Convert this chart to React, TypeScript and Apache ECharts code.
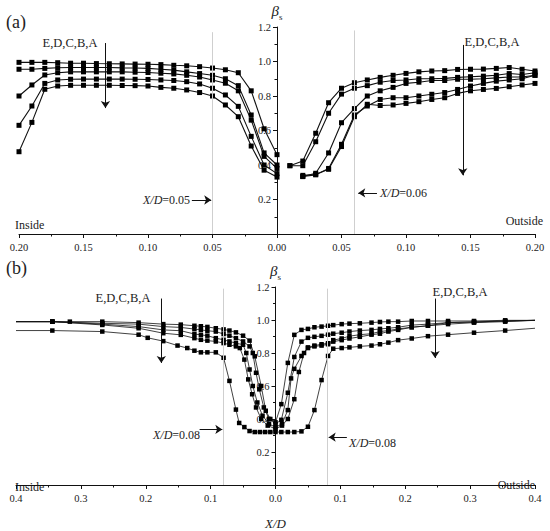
import React, { useEffect, useRef } from "react";
import * as echarts from "echarts";

const FONT = "Liberation Serif";

// ---------- Panel (a) data ----------
const aInX = [-0.2, -0.19, -0.18, -0.17, -0.16, -0.15, -0.14, -0.13, -0.12, -0.11, -0.1, -0.09, -0.08, -0.07, -0.06, -0.05, -0.04, -0.03, -0.02, -0.01, 0];
const aInE = [0.995, 0.995, 0.995, 0.993, 0.99, 0.99, 0.988, 0.987, 0.986, 0.985, 0.984, 0.982, 0.978, 0.975, 0.97, 0.962, 0.952, 0.935, 0.83, 0.61, 0.46];
const aInD = [0.955, 0.955, 0.96, 0.964, 0.965, 0.965, 0.965, 0.965, 0.963, 0.962, 0.96, 0.955, 0.95, 0.94, 0.93, 0.92, 0.9, 0.86, 0.69, 0.47, 0.4];
const aInC = [0.8, 0.864, 0.922, 0.935, 0.94, 0.94, 0.94, 0.94, 0.94, 0.938, 0.936, 0.932, 0.928, 0.92, 0.91, 0.893, 0.874, 0.83, 0.66, 0.45, 0.38];
const aInB = [0.63, 0.742, 0.873, 0.893, 0.897, 0.898, 0.898, 0.898, 0.898, 0.897, 0.896, 0.893, 0.89, 0.883, 0.87, 0.845, 0.806, 0.74, 0.566, 0.4, 0.35];
const aInA = [0.477, 0.647, 0.839, 0.858, 0.862, 0.862, 0.862, 0.862, 0.861, 0.86, 0.858, 0.85, 0.845, 0.835, 0.82, 0.8, 0.748, 0.68, 0.51, 0.37, 0.33];

const aOutX1 = [0.01, 0.02, 0.03, 0.04, 0.05, 0.06, 0.07, 0.08, 0.09, 0.1, 0.11, 0.12, 0.13, 0.14, 0.15, 0.16, 0.17, 0.18, 0.19, 0.2];
const aOutX2 = [0.02, 0.03, 0.04, 0.05, 0.06, 0.07, 0.08, 0.09, 0.1, 0.11, 0.12, 0.13, 0.14, 0.15, 0.16, 0.17, 0.18, 0.19, 0.2];
const aOutE = [0.396, 0.423, 0.584, 0.761, 0.845, 0.877, 0.893, 0.908, 0.92, 0.931, 0.94, 0.945, 0.947, 0.954, 0.955, 0.956, 0.96, 0.965, 0.955, 0.945];
const aOutD = [0.396, 0.396, 0.535, 0.7, 0.811, 0.845, 0.86, 0.88, 0.89, 0.893, 0.9, 0.9, 0.902, 0.908, 0.912, 0.915, 0.92, 0.93, 0.925, 0.935];
const aOutC = [0.333, 0.352, 0.47, 0.645, 0.727, 0.8, 0.83, 0.85, 0.873, 0.88, 0.89, 0.89, 0.897, 0.897, 0.9, 0.905, 0.91, 0.91, 0.92];
const aOutB = [0.333, 0.343, 0.38, 0.52, 0.69, 0.742, 0.78, 0.79, 0.79, 0.8, 0.81, 0.82, 0.838, 0.858, 0.873, 0.886, 0.893, 0.9, 0.92];
const aOutA = [0.34, 0.345, 0.375, 0.507, 0.68, 0.752, 0.745, 0.748, 0.757, 0.767, 0.78, 0.79, 0.815, 0.83, 0.838, 0.844, 0.854, 0.864, 0.873];

// ---------- Panel (b) data ----------
const bAX = [-0.4, -0.344, -0.267, -0.211, -0.197, -0.173, -0.151, -0.136, -0.125, -0.115, -0.105, -0.092, -0.08, -0.071, -0.061, -0.056, -0.048, -0.04, -0.032, -0.024, -0.016, -0.008, 0, 0.009, 0.019, 0.029, 0.04, 0.05, 0.06, 0.071, 0.081, 0.089, 0.102, 0.114, 0.13, 0.148, 0.161, 0.174, 0.189, 0.21, 0.235, 0.266, 0.306, 0.354, 0.4];
const bAY = [0.936, 0.936, 0.93, 0.911, 0.892, 0.872, 0.845, 0.83, 0.814, 0.804, 0.804, 0.804, 0.771, 0.631, 0.457, 0.376, 0.351, 0.327, 0.321, 0.321, 0.321, 0.321, 0.321, 0.321, 0.321, 0.321, 0.325, 0.353, 0.454, 0.636, 0.782, 0.826, 0.83, 0.834, 0.84, 0.845, 0.853, 0.863, 0.878, 0.888, 0.902, 0.911, 0.923, 0.936, 0.95];

const bEX = [-0.4, -0.344, -0.317, -0.267, -0.211, -0.173, -0.146, -0.125, -0.115, -0.105, -0.092, -0.08, -0.071, -0.061, -0.05, -0.04, -0.032, -0.022, -0.015, -0.008, 0, 0.009, 0.019, 0.029, 0.04, 0.05, 0.06, 0.071, 0.081, 0.089, 0.102, 0.114, 0.13, 0.148, 0.161, 0.174, 0.189, 0.21, 0.235, 0.266, 0.306, 0.354, 0.4];
const bEY = [0.99, 0.99, 0.99, 0.99, 0.984, 0.975, 0.972, 0.965, 0.962, 0.958, 0.95, 0.943, 0.936, 0.925, 0.905, 0.875, 0.78, 0.6, 0.45, 0.4, 0.38, 0.49, 0.74, 0.91, 0.94, 0.946, 0.956, 0.96, 0.965, 0.969, 0.975, 0.978, 0.98, 0.984, 0.988, 0.99, 0.99, 0.994, 0.994, 0.994, 0.994, 0.998, 0.998];

const bDX = [-0.4, -0.344, -0.267, -0.211, -0.173, -0.146, -0.125, -0.115, -0.105, -0.092, -0.08, -0.071, -0.061, -0.05, -0.04, -0.035, -0.03, -0.025, -0.018, -0.01, 0, 0.009, 0.019, 0.029, 0.04, 0.05, 0.06, 0.071, 0.081, 0.089, 0.102, 0.114, 0.13, 0.148, 0.161, 0.174, 0.189, 0.21, 0.235, 0.266, 0.306, 0.354, 0.4];
const bDY = [0.99, 0.99, 0.98, 0.975, 0.96, 0.955, 0.945, 0.94, 0.935, 0.93, 0.915, 0.905, 0.89, 0.87, 0.84, 0.8, 0.68, 0.58, 0.47, 0.4, 0.37, 0.395, 0.559, 0.776, 0.869, 0.892, 0.898, 0.904, 0.911, 0.917, 0.923, 0.93, 0.936, 0.94, 0.946, 0.95, 0.956, 0.969, 0.975, 0.984, 0.988, 0.994, 0.998];

const bCX = [-0.4, -0.344, -0.267, -0.211, -0.173, -0.146, -0.125, -0.115, -0.105, -0.092, -0.08, -0.071, -0.061, -0.05, -0.045, -0.04, -0.035, -0.028, -0.02, -0.01, 0, 0.01, 0.019, 0.024, 0.029, 0.04, 0.05, 0.06, 0.071, 0.081, 0.089, 0.102, 0.114, 0.13, 0.148, 0.161, 0.174, 0.189, 0.21, 0.235, 0.266, 0.306, 0.354, 0.4];
const bCY = [0.99, 0.99, 0.975, 0.96, 0.94, 0.935, 0.915, 0.91, 0.905, 0.89, 0.88, 0.87, 0.86, 0.85, 0.8, 0.7, 0.6, 0.5, 0.42, 0.37, 0.35, 0.37, 0.454, 0.646, 0.704, 0.782, 0.834, 0.845, 0.853, 0.859, 0.878, 0.888, 0.902, 0.911, 0.917, 0.93, 0.936, 0.946, 0.956, 0.965, 0.984, 0.988, 0.994, 0.998];

const bBX = [-0.4, -0.344, -0.267, -0.211, -0.173, -0.146, -0.125, -0.115, -0.105, -0.092, -0.08, -0.071, -0.061, -0.055, -0.048, -0.042, -0.036, -0.03, -0.022, -0.012, 0, 0.01, 0.019, 0.029, 0.036, 0.044, 0.05, 0.06, 0.071, 0.081, 0.089, 0.102, 0.114, 0.13, 0.148, 0.161, 0.174, 0.189, 0.21, 0.235, 0.266, 0.306, 0.354, 0.4];
const bBY = [0.99, 0.99, 0.97, 0.95, 0.92, 0.91, 0.89, 0.88, 0.875, 0.87, 0.86, 0.85, 0.84, 0.83, 0.76, 0.64, 0.55, 0.47, 0.4, 0.36, 0.34, 0.36, 0.4, 0.52, 0.685, 0.8, 0.83, 0.84, 0.845, 0.853, 0.869, 0.878, 0.888, 0.898, 0.911, 0.917, 0.93, 0.94, 0.956, 0.965, 0.975, 0.984, 0.99, 0.998];

// reference lines / annotations (data coords)
const aRefLines = [-0.05, 0.06];
const bRefLines = [-0.08, 0.08];
const caseLabel = "E,D,C,B,A";

function makeSeries(name: string, xs: number[], ys: number[], idx: number, size: number, width: number, markLine?: any) {
  const s: any = {
    name,
    type: "line",
    xAxisIndex: idx,
    yAxisIndex: idx,
    data: xs.map((x, i) => [x, ys[i]]),
    symbol: (v: number[]) => (Math.abs(v[0]) >= 0.399 ? "none" : "rect"),
    symbolSize: size,
    showAllSymbol: true,
    clip: false,
    lineStyle: { color: "#111", width },
    itemStyle: { color: "#000" },
    z: 3,
  };
  if (markLine) s.markLine = markLine;
  return s;
}

function vline(x: number, top: number) {
  return [
    { coord: [x, 0], symbol: "none", lineStyle: { color: "#cfcfcf", width: 1, type: "solid" } },
    { coord: [x, top], symbol: "none" },
  ];
}
function arrow(x1: number, y1: number, x2: number, y2: number) {
  return [
    { coord: [x1, y1], symbol: "none", lineStyle: { color: "#111", width: 1, type: "solid" } },
    { coord: [x2, y2], symbol: "arrow" },
  ];
}

export default function App() {
  const ref = useRef<HTMLDivElement>(null);
  useEffect(() => {
    if (!ref.current) return;
    const chart = echarts.init(ref.current, undefined, { renderer: "svg" });

    const axisLbl = { fontFamily: FONT, fontSize: 10.5, color: "#222" };
    const mkX = (idx: number, min: number, max: number, interval: number, digits: number, name?: string) => ({
      type: "value",
      gridIndex: idx,
      min,
      max,
      interval,
      axisLine: { onZero: false, lineStyle: { color: "#111", width: 1 } },
      axisTick: { show: true, inside: false, length: 4, lineStyle: { color: "#111" } },
      minorTick: { show: true, splitNumber: 2, length: 2.5, lineStyle: { color: "#111" } },
      splitLine: { show: false },
      minorSplitLine: { show: false },
      axisLabel: { ...axisLbl, margin: 8, formatter: (v: number) => Math.abs(v).toFixed(digits) },
      name: name || "",
      nameLocation: "middle",
      nameGap: 32,
      nameTextStyle: { fontFamily: FONT, fontSize: 13, fontStyle: "italic", color: "#222" },
    });
    const mkY = (idx: number, offset: number) => ({
      type: "value",
      gridIndex: idx,
      min: 0,
      max: 1.2,
      interval: 0.2,
      position: "left",
      offset,
      axisLine: { show: true, onZero: false, lineStyle: { color: "#111", width: 1 } },
      axisTick: { show: true, inside: false, length: 4, lineStyle: { color: "#111" } },
      minorTick: { show: true, splitNumber: 2, length: 2.5, lineStyle: { color: "#111" } },
      splitLine: { show: false },
      minorSplitLine: { show: false },
      axisLabel: { ...axisLbl, margin: 6, formatter: (v: number) => (Math.abs(v) < 1e-9 ? "" : v.toFixed(1)) },
      name: "{b|β}{s|s}",
      nameLocation: "end",
      nameGap: 6,
      nameTextStyle: {
        rich: {
          b: { fontFamily: FONT, fontSize: 15, fontStyle: "italic", color: "#222", verticalAlign: "bottom" },
          s: { fontFamily: FONT, fontSize: 9, color: "#222", verticalAlign: "bottom", padding: [0, 0, -3, 0] },
        },
      },
    });

    const aMark = {
      silent: true,
      symbolSize: 7,
      label: { show: false },
      data: [
        vline(aRefLines[0], 1.17),
        vline(aRefLines[1], 1.18),
        arrow(-0.133, 1.107, -0.133, 0.73),
        arrow(0.144, 1.096, 0.144, 0.34),
        arrow(-0.066, 0.197, -0.051, 0.197),
        arrow(0.0775, 0.238, 0.063, 0.238),
      ],
    };
    const bMark = {
      silent: true,
      symbolSize: 7,
      label: { show: false },
      data: [
        vline(bRefLines[0], 1.19),
        vline(bRefLines[1], 1.19),
        arrow(-0.176, 1.13, -0.176, 0.74),
        arrow(0.246, 1.13, 0.246, 0.77),
        arrow(-0.117, 0.337, -0.082, 0.337),
        arrow(0.11, 0.29, 0.082, 0.29),
      ],
    };

    const aS = 5, aW = 1.1, bS = 4.5, bW = 0.8;
    const series = [
      makeSeries("aInE", aInX, aInE, 0, aS, aW, aMark),
      makeSeries("aInD", aInX, aInD, 0, aS, aW),
      makeSeries("aInC", aInX, aInC, 0, aS, aW),
      makeSeries("aInB", aInX, aInB, 0, aS, aW),
      makeSeries("aInA", aInX, aInA, 0, aS, aW),
      makeSeries("aOutE", aOutX1, aOutE, 0, aS, aW),
      makeSeries("aOutD", aOutX1, aOutD, 0, aS, aW),
      makeSeries("aOutC", aOutX2, aOutC, 0, aS, aW),
      makeSeries("aOutB", aOutX2, aOutB, 0, aS, aW),
      makeSeries("aOutA", aOutX2, aOutA, 0, aS, aW),
      makeSeries("bE", bEX, bEY, 1, bS, bW, bMark),
      makeSeries("bD", bDX, bDY, 1, bS, bW),
      makeSeries("bC", bCX, bCY, 1, bS, bW),
      makeSeries("bB", bBX, bBY, 1, bS, bW),
      makeSeries("bA", bAX, bAY, 1, bS, bW),
    ];

    const txt = (text: string, x: number, y: number, size: number, align = "left", extra: any = {}) => ({
      type: "text",
      x,
      y,
      silent: true,
      style: {
        text,
        fontFamily: FONT,
        fontSize: size,
        fill: "#222",
        align,
        verticalAlign: "middle",
        textAlign: align,
        textVerticalAlign: "middle",
        ...extra,
      },
    });
    const richXD = {
      rich: {
        i: { fontFamily: FONT, fontSize: 12, fontStyle: "italic", fill: "#222", color: "#222" },
        n: { fontFamily: FONT, fontSize: 12, fill: "#222", color: "#222" },
      },
    };

    chart.setOption({
      animation: false,
      backgroundColor: "#fff",
      textStyle: { fontFamily: FONT },
      grid: [
        { left: 19, width: 516, top: 27, height: 207, containLabel: false },
        { left: 16, width: 519, top: 287, height: 206, containLabel: false },
      ],
      xAxis: [mkX(0, -0.2, 0.2, 0.05, 2), mkX(1, -0.4, 0.4, 0.1, 1, "X/D")],
      yAxis: [mkY(0, -258), mkY(1, -259.5)],
      series,
      graphic: [
        txt("(a)", 6, 22, 18),
        txt("(b)", 6, 268, 18),
        txt(caseLabel, 70, 43, 12.5, "center"),
        txt(caseLabel, 492, 42, 12.5, "center"),
        txt(caseLabel, 123, 298, 12.5, "center"),
        txt(caseLabel, 460, 292, 12.5, "center"),
        txt("{i|X/D}{n|=0.05}", 143, 200, 12, "left", richXD),
        txt("{i|X/D}{n|=0.06}", 380, 193, 12, "left", richXD),
        txt("{i|X/D}{n|=0.08}", 153, 435, 12, "left", richXD),
        txt("{i|X/D}{n|=0.08}", 349, 443, 12, "left", richXD),
        txt("Inside", 15, 225, 12),
        txt("Outside", 543, 221, 12, "right"),
        txt("Inside", 15, 487, 12),
        txt("Outside", 535, 485, 12, "right"),
      ],
    });
    return () => chart.dispose();
  }, []);
  return <div ref={ref} style={{ position: "absolute", left: 0, top: 0, width: 550, height: 531 }} />;
}
